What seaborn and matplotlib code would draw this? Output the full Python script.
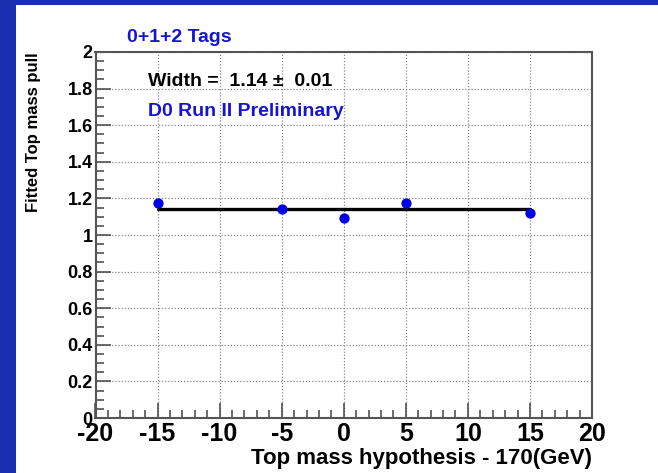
import matplotlib
matplotlib.use("Agg")
import matplotlib.pyplot as plt
import seaborn as sns
import pandas as pd
from matplotlib.ticker import MultipleLocator
from matplotlib.patches import Rectangle

# Data
mass_shift = [-15, -5, 0, 5, 15]
pull_width = [1.177, 1.141, 1.094, 1.175, 1.119]
pull_err = [0.007, 0.007, 0.007, 0.007, 0.007]
fit_value = 1.14
fit_range = [-15, 15]
x_ticks = [-20, -15, -10, -5, 0, 5, 10, 15, 20]
y_ticks = [0, 0.2, 0.4, 0.6, 0.8, 1, 1.2, 1.4, 1.6, 1.8, 2]
y_tick_labels = ["0", "0.2", "0.4", "0.6", "0.8", "1", "1.2", "1.4", "1.6", "1.8", "2"]

df = pd.DataFrame({"x": mass_shift, "y": pull_width})

sns.set_theme(style="white")
plt.rcParams['font.family'] = ['Liberation Sans', 'DejaVu Sans']
plt.rcParams['axes.unicode_minus'] = False

fig = plt.figure(figsize=(6.58, 4.73), dpi=100)
fig.patch.set_facecolor("#1a2fb0")
bg = fig.add_axes([16/658, 0, 1 - 16/658, 1 - 5/473], zorder=-5)
bg.set_axis_off()
bg.add_patch(Rectangle((0, 0), 1, 1, transform=bg.transAxes, facecolor="white",
                       edgecolor="none"))

ax = fig.add_axes([95.5/658, 1 - 418/473, (592 - 95.5)/658, (418 - 52)/473], zorder=1)
ax.set_facecolor("white")

ax.errorbar(mass_shift, pull_width, yerr=pull_err, fmt="none", ecolor="#0000e0", lw=1.2, zorder=3)
sns.scatterplot(data=df, x="x", y="y", ax=ax, color="#0000e6", s=55, edgecolor="#0000e6",
                linewidth=0, zorder=4)
sns.lineplot(x=fit_range, y=[fit_value, fit_value], ax=ax, color="black", lw=2.4, zorder=3)

ax.set_xlim(-20, 20)
ax.set_ylim(0, 2)
ax.set_xticks(x_ticks)
ax.set_xticklabels([str(v) for v in x_ticks])
ax.xaxis.set_minor_locator(MultipleLocator(1))
ax.yaxis.set_minor_locator(MultipleLocator(0.05))
ax.set_yticks(y_ticks)
ax.set_yticklabels(y_tick_labels)

ax.grid(True, which="major", color="#888888", linestyle=(0, (1, 1.5)), lw=0.9)
ax.tick_params(axis="both", which="major", direction="in", length=11, width=1.1,
               color="#444444", left=True, bottom=True, right=False, top=False)
ax.tick_params(axis="both", which="minor", direction="in", length=5.5, width=1.1,
               color="#444444", left=True, bottom=True, right=False, top=False)
ax.tick_params(axis="x", labelsize=18, pad=3)
ax.tick_params(axis="y", labelsize=13, pad=2)
for lab in ax.get_xticklabels() + ax.get_yticklabels():
    lab.set_fontweight("bold")
    lab.set_color("black")
for sp in ax.spines.values():
    sp.set_color("#555555")
    sp.set_linewidth(1.5)

ax.set_xlabel("Top mass hypothesis - 170(GeV)", fontsize=16, fontweight="bold",
              color="black", loc="right", labelpad=1)
ax.set_ylabel("Fitted Top mass pull", fontsize=12, fontweight="bold",
              color="black", loc="top", labelpad=19)

fig.text(127/658, 1 - 37/473, "0+1+2 Tags", color="#1414d2", fontsize=14,
         fontweight="bold", va="center", ha="left")
fig.text(148/658, 1 - 82/473, "Width =  1.14 \u00b1  0.01", color="black", fontsize=14,
         fontweight="bold", va="center", ha="left")
fig.text(148/658, 1 - 111/473, "D0 Run II Preliminary", color="#1414d2", fontsize=14,
         fontweight="bold", va="center", ha="left")

fig.savefig("out.png", dpi=100, facecolor=fig.get_facecolor())
